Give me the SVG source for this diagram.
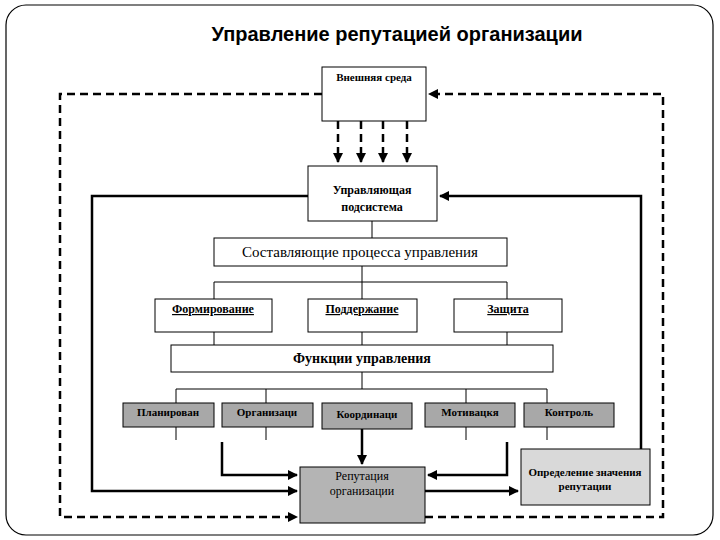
<svg xmlns="http://www.w3.org/2000/svg" width="720" height="540" viewBox="0 0 720 540">
<defs>
<style>
.b{fill:#fff;stroke:#000;stroke-width:1}
.g{fill:#a8a8a8;stroke:#000;stroke-width:1}
.t{font-family:"Liberation Serif","Times New Roman",serif;font-size:11px;font-weight:bold;text-anchor:middle;fill:#000}
.l{stroke:#000;stroke-width:1;fill:none}
.s{stroke:#000;stroke-width:2.5;fill:none}
.d{stroke:#000;stroke-width:2.5;fill:none;stroke-dasharray:8,5}
</style>
<marker id="a" viewBox="0 0 10 10" refX="9" refY="5" markerWidth="4" markerHeight="4" orient="auto"><path d="M0,0L10,5L0,10z" fill="#000"/></marker>
</defs>
<rect x="6" y="5" width="707" height="530" rx="20" fill="#fff" stroke="#000" stroke-width="1.2"/>
<text x="397" y="41" font-family="Liberation Sans,sans-serif" font-size="20" font-weight="bold" text-anchor="middle">Управление репутацией организации</text>
<g id="connectors">
<path class="d" d="M322,94H60V517H297" marker-end="url(#a)"/>
<path class="d" d="M425,517H663V94H429" marker-end="url(#a)"/>
<path class="d" d="M338,121V162" marker-end="url(#a)"/>
<path class="d" d="M361,121V162" marker-end="url(#a)"/>
<path class="d" d="M383,121V162" marker-end="url(#a)"/>
<path class="d" d="M407,121V162" marker-end="url(#a)"/>
<path class="s" d="M308,196H92V491H297" marker-end="url(#a)"/>
<path class="s" d="M641,449V196H440" marker-end="url(#a)"/>
<path class="l" d="M372,221V238M362,266V282M214,282H507M214,282V299M362,282V299M507,282V299M214,332V345M362,332V345M507,332V345M362,372V389M176,389H547M176,389V403M266,389V403M466,389V403M547,389V403M176,427V440M266,427V440M466,427V440M547,427V440"/>
<path class="s" d="M222,442V475H297" marker-end="url(#a)"/>
<path class="s" d="M507,442V475H428" marker-end="url(#a)"/>
<path class="s" d="M362,429V464" marker-end="url(#a)"/>
<path class="s" d="M425,491H518" marker-end="url(#a)"/>
</g>
<g id="n1"><rect class="b" x="322" y="67" width="104" height="54"/><text class="t" x="374" y="81">Внешняя среда</text></g>
<g id="n2"><rect class="b" x="308" y="166" width="129" height="55"/><text class="t" x="372" y="194" style="font-size:12px">Управляющая</text><text class="t" x="372" y="211" style="font-size:12px">подсистема</text></g>
<g id="n3"><rect class="b" x="214" y="238" width="293" height="28"/><text class="t" x="360" y="257" style="font-size:15px;font-weight:normal">Составляющие процесса управления</text></g>
<g id="n4"><rect class="b" x="155" y="299" width="117" height="33"/><text class="t" x="213" y="313" style="font-size:12px;text-decoration:underline">Формирование</text></g>
<g id="n5"><rect class="b" x="308" y="299" width="109" height="33"/><text class="t" x="362" y="313" style="font-size:12px;text-decoration:underline">Поддержание</text></g>
<g id="n6"><rect class="b" x="454" y="299" width="108" height="33"/><text class="t" x="508" y="313" style="font-size:12px;text-decoration:underline">Защита</text></g>
<g id="n7"><rect class="b" x="171" y="345" width="382" height="27"/><text class="t" x="362" y="363" style="font-size:14px">Функции управления</text></g>
<g id="n8"><rect class="g" x="123" y="403" width="91" height="24"/><text class="t" x="168" y="416">Планирован</text></g>
<g id="n9"><rect class="g" x="222" y="403" width="91" height="24"/><text class="t" x="267" y="416">Организаци</text></g>
<g id="n10"><rect class="g" x="322" y="403" width="90" height="26"/><text class="t" x="367" y="418">Координаци</text></g>
<g id="n11"><rect class="g" x="425" y="403" width="90" height="24"/><text class="t" x="470" y="416">Мотивацкя</text></g>
<g id="n12"><rect class="g" x="524" y="403" width="90" height="24"/><text class="t" x="569" y="416">Контроль</text></g>
<g id="n13"><rect x="300" y="467" width="125" height="56" fill="#b4b4b4" stroke="#000"/><text class="t" x="362" y="480" style="font-size:12px;font-weight:normal">Репутация</text><text class="t" x="362" y="495" style="font-size:12px;font-weight:normal">организации</text></g>
<g id="n14"><rect x="521" y="449" width="129" height="56" fill="#d9d9d9" stroke="#000"/><text class="t" x="585" y="476">Определение значения</text><text class="t" x="585" y="490">репутации</text></g>
</svg>
